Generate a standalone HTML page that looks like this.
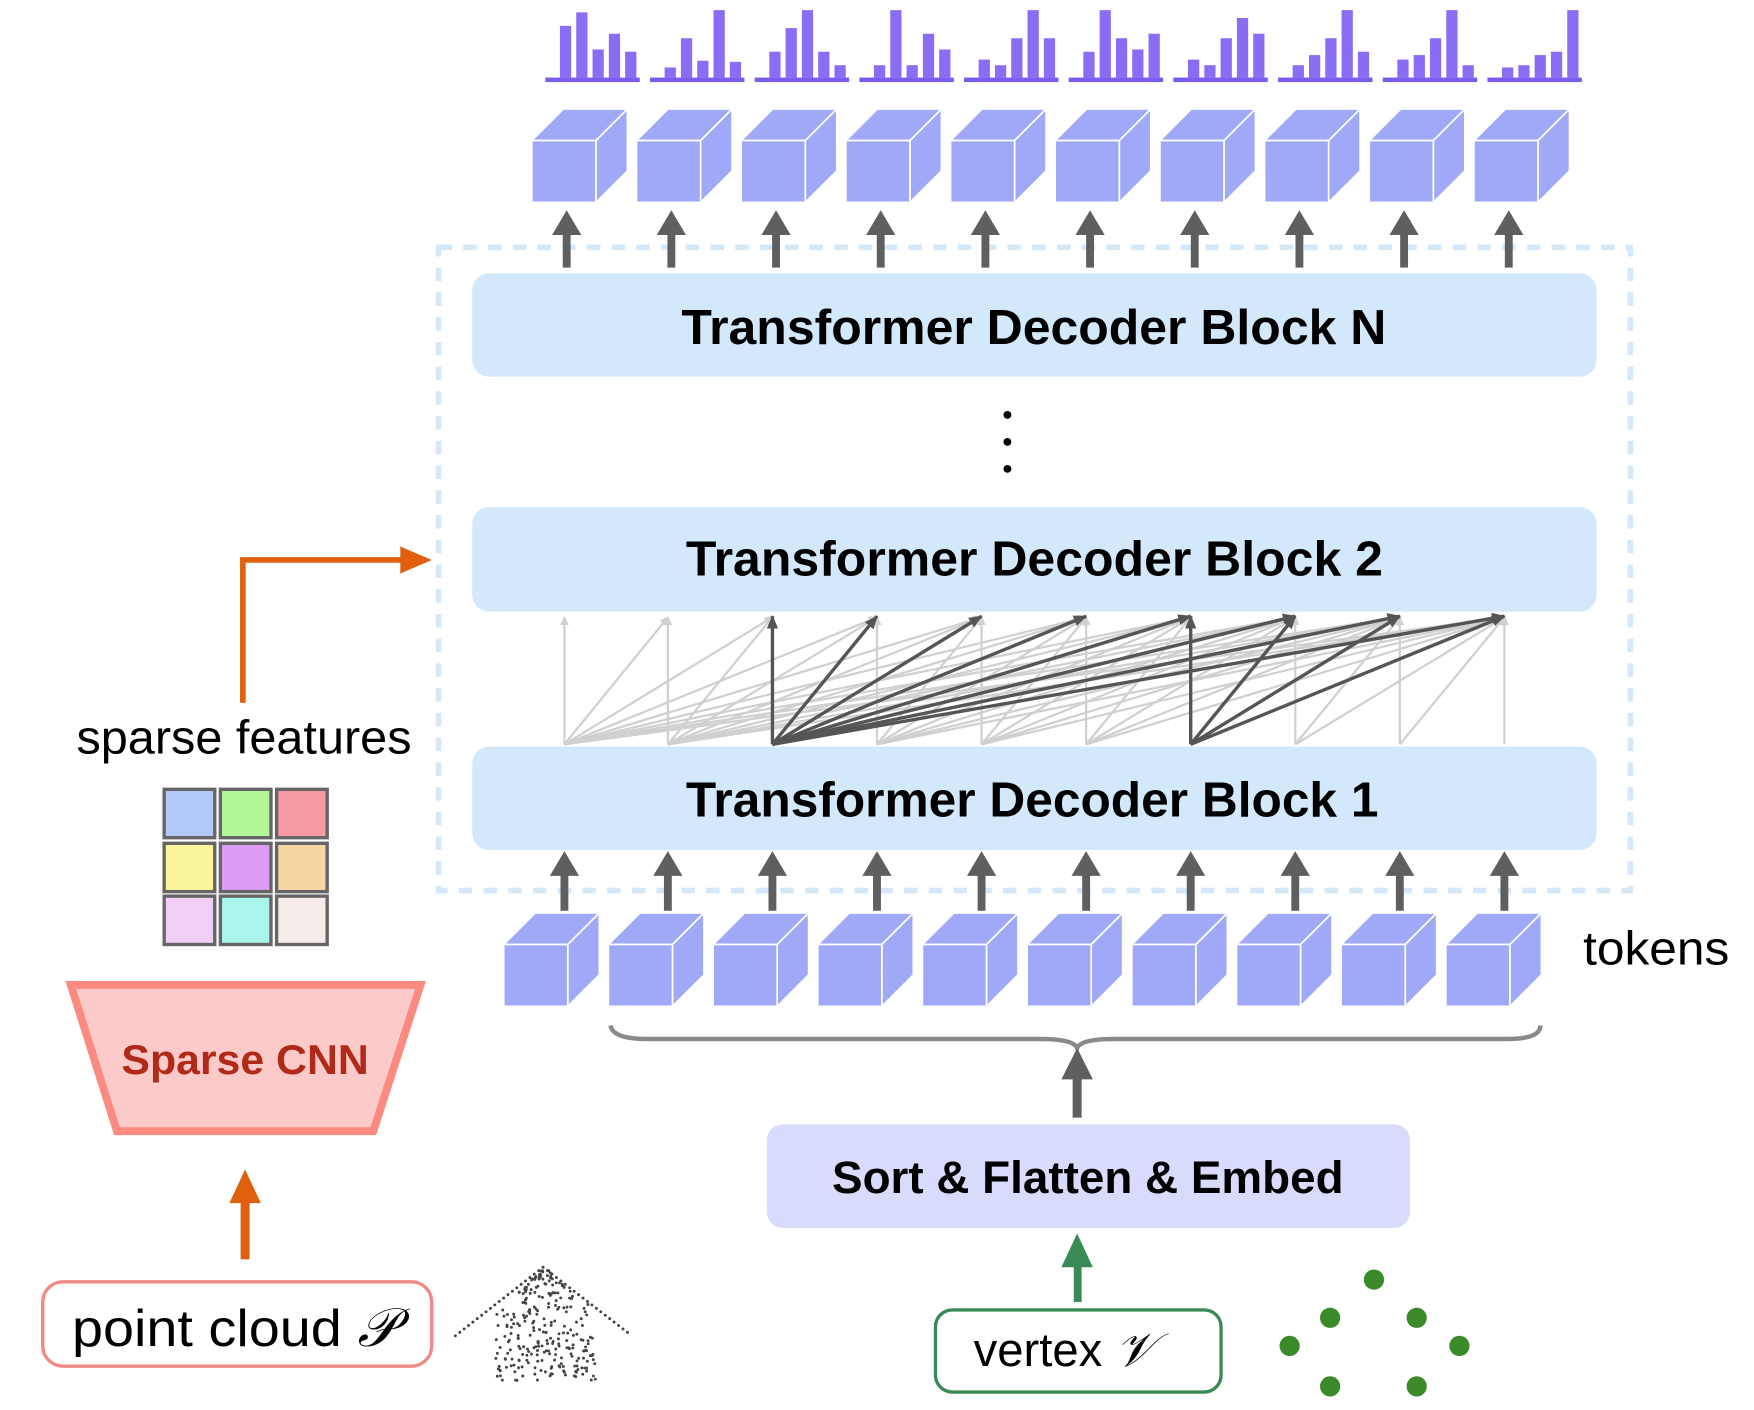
<!DOCTYPE html>
<html><head><meta charset="utf-8"><style>
html,body{margin:0;padding:0;background:#fff}
svg{display:block}
text{font-family:"Liberation Sans",Arial,sans-serif}
</style></head><body>
<svg id="s" width="1754" height="1410" viewBox="0 0 1560 1254" preserveAspectRatio="none" xmlns="http://www.w3.org/2000/svg">
<defs>
<marker id="ag" markerWidth="8" markerHeight="8" refX="7" refY="4" orient="auto" markerUnits="userSpaceOnUse"><path d="M0,0 L8,4 L0,8 z" fill="#d0d0d0"/></marker>
<marker id="ad" markerWidth="12" markerHeight="10" refX="11" refY="5" orient="auto" markerUnits="userSpaceOnUse"><path d="M0,0 L12,5 L0,10 z" fill="#555"/></marker>
</defs>
<rect x="390" y="220" width="1060" height="572" fill="none" stroke="#d4e8fa" stroke-width="5" stroke-dasharray="12,10"/>
<g id="hist"></g>
<g id="cubes"></g>
<g id="arrows"></g>
<rect x="420" y="243" width="1000" height="92" rx="15" fill="#d3e8fb"/>
<text x="606" y="306" font-size="44" font-weight="bold" textLength="627" lengthAdjust="spacingAndGlyphs">Transformer Decoder Block N</text>
<circle cx="896" cy="369" r="3.5" fill="#000"/><circle cx="896" cy="393" r="3.5" fill="#000"/><circle cx="896" cy="417" r="3.5" fill="#000"/>
<rect x="420" y="451" width="1000" height="93" rx="15" fill="#d3e8fb"/>
<text x="610" y="512" font-size="44" font-weight="bold" textLength="620" lengthAdjust="spacingAndGlyphs">Transformer Decoder Block 2</text>
<rect x="420" y="664" width="1000" height="92" rx="15" fill="#d3e8fb"/>
<text x="610" y="726" font-size="44" font-weight="bold" textLength="616" lengthAdjust="spacingAndGlyphs">Transformer Decoder Block 1</text>
<g id="conn"></g>
<text x="1408" y="858" font-size="42" textLength="130" lengthAdjust="spacingAndGlyphs">tokens</text>
<path d="M543,912 Q545,924 575,924 L925,924 Q955,924 958,932 Q961,924 991,924 L1341,924 Q1370,924 1370,912" fill="none" stroke="#8a8a8a" stroke-width="4"/>
<rect x="954" y="958" width="8" height="36" fill="#5f5f5f"/><path d="M944,960 L958,932 L972,960 z" fill="#5f5f5f"/>
<rect x="682" y="1000" width="572" height="92" rx="14" fill="#d8dbfb"/>
<text x="740" y="1061" font-size="40" font-weight="bold" textLength="455" lengthAdjust="spacingAndGlyphs">Sort &amp; Flatten &amp; Embed</text>
<rect x="955" y="1124" width="7" height="34" fill="#3a8a55"/><path d="M944,1127 L958,1097 L972,1127 z" fill="#3a8a55"/>
<rect x="832" y="1165" width="254" height="73" rx="15" fill="#fff" stroke="#3a8a55" stroke-width="3"/>
<text x="866" y="1215" font-size="42">vertex <tspan font-family="Liberation Serif,serif" font-style="italic">𝒱</tspan></text>
<g fill="#3a8a2a"><circle cx="1222" cy="1138" r="9"/><circle cx="1183" cy="1172" r="9"/><circle cx="1260" cy="1172" r="9"/><circle cx="1147" cy="1197" r="9"/><circle cx="1298" cy="1197" r="9"/><circle cx="1183" cy="1233" r="9"/><circle cx="1260" cy="1233" r="9"/></g>
<text x="68" y="670" font-size="42" textLength="298" lengthAdjust="spacingAndGlyphs">sparse features</text>
<g stroke="#666" stroke-width="3">
<rect x="146" y="702" width="45" height="43" fill="#b3c9f8"/><rect x="196" y="702" width="45" height="43" fill="#b3f79a"/><rect x="246" y="702" width="45" height="43" fill="#f79aa4"/>
<rect x="146" y="750" width="45" height="43" fill="#f8f59a"/><rect x="196" y="750" width="45" height="43" fill="#dd9cf5"/><rect x="246" y="750" width="45" height="43" fill="#f6d6a3"/>
<rect x="146" y="797" width="45" height="43" fill="#f1cff5"/><rect x="196" y="797" width="45" height="43" fill="#a9f5ec"/><rect x="246" y="797" width="45" height="43" fill="#f6ecea"/>
</g>
<path d="M216,625 L216,498 L360,498" fill="none" stroke="#e0600e" stroke-width="5"/>
<path d="M356,486 L384,498 L356,510 z" fill="#e0600e"/>
<path d="M63,876 L374,876 L332,1006 L104,1006 z" fill="#fdcaca" stroke="#fb8a80" stroke-width="7"/>
<text x="108" y="955" font-size="37" font-weight="bold" fill="#b02a1a" textLength="220" lengthAdjust="spacingAndGlyphs">Sparse CNN</text>
<rect x="214" y="1066" width="8" height="54" fill="#e0600e"/><path d="M204,1070 L218,1040 L232,1070 z" fill="#e0600e"/>
<rect x="38" y="1140" width="346" height="75" rx="18" fill="#fff" stroke="#f08a86" stroke-width="3"/>
<text x="64" y="1197" font-size="46" textLength="240" lengthAdjust="spacingAndGlyphs">point cloud</text>
<text x="318" y="1197" font-size="48" font-family="Liberation Serif,serif" font-style="italic">𝒫</text>
<g id="house" fill="#444"></g>
</svg>
<script>
var NS="http://www.w3.org/2000/svg";
function el(p,t,a){var e=document.createElementNS(NS,t);for(var k in a)e.setAttribute(k,a[k]);document.getElementById(p).appendChild(e);return e;}
var H=[[46,58,25,39,23],[9,35,15,60,14],[23,44,60,23,11],[11,60,11,39,25],[16,11,35,60,35],[23,60,35,25,39],[16,11,35,53,39],[11,20,35,60,23],[16,20,35,60,11],[9,11,20,23,60]];
for(var i=0;i<10;i++){var x0=485+i*93.1;
 el("hist","rect",{x:x0,y:69,width:84,height:4,fill:"#7c5cf0"});
 for(var b=0;b<5;b++){var h=H[i][b];el("hist","rect",{x:x0+13+b*14.5,y:69-h,width:10,height:h,fill:"#8b6cf5"});}
}
function cube(x,y){
 var w=57,h=55,dx=28,dy=28;
 el("cubes","path",{d:"M"+x+","+y+" L"+(x+dx)+","+(y-dy)+" L"+(x+w+dx)+","+(y-dy)+" L"+(x+w)+","+y+" z",fill:"#a0a8f8",stroke:"#fff","stroke-width":1.5});
 el("cubes","path",{d:"M"+(x+w)+","+y+" L"+(x+w+dx)+","+(y-dy)+" L"+(x+w+dx)+","+(y+h-dy)+" L"+(x+w)+","+(y+h)+" z",fill:"#a0a8f8",stroke:"#fff","stroke-width":1.5});
 el("cubes","rect",{x:x,y:y,width:w,height:h,fill:"#a0a8f8",stroke:"#fff","stroke-width":1.5});
}
function arrow(cx,y1,y2){el("arrows","rect",{x:cx-3.5,y:y2+20,width:7,height:y1-y2-20,fill:"#5f5f5f"});el("arrows","path",{d:"M"+(cx-13)+","+(y2+22)+" L"+cx+","+y2+" L"+(cx+13)+","+(y2+22)+" z",fill:"#5f5f5f"});}
var TX=[502,594,687,780,873,966,1059,1152,1245,1338];
for(var i=0;i<10;i++){
 cube(473+i*93.1,125); cube(448+i*93.1,840);
 arrow(504+i*93.1,238,187); arrow(TX[i],810,757);
}
for(var i=0;i<10;i++)for(var j=i;j<10;j++){
 el("conn","line",{x1:TX[i],y1:662,x2:TX[j],y2:549,stroke:"#d0d0d0","stroke-width":2,"marker-end":"url(#ag)"});
}
[2,6].forEach(function(i){for(var j=i;j<10;j++)el("conn","line",{x1:TX[i],y1:662,x2:TX[j],y2:548,stroke:"#555","stroke-width":3,"marker-end":"url(#ad)"});});
var seed=7;function r(){seed=(seed*16807)%2147483647;return seed/2147483647;}
for(var t=0;t<=1;t+=0.05){el("house","circle",{cx:405+78*t,cy:1188-61*t,r:1.3});el("house","circle",{cx:483+79*t,cy:1127+61*t,r:1.3});}
for(var k=0;k<260;k++){var y=1130+r()*98;var half=y<1160?(y-1127)*1.1:45;var x=485+(r()*2-1)*half;el("house","circle",{cx:x,cy:y,r:1.3});}
</script>
</body></html>
